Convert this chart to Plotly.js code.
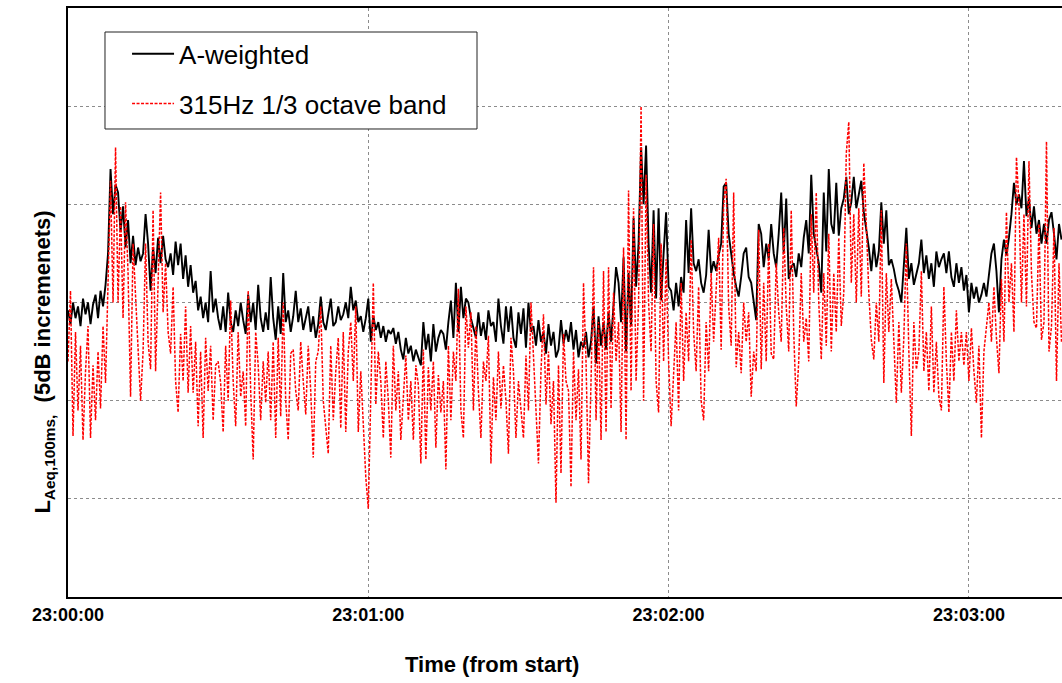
<!DOCTYPE html>
<html>
<head>
<meta charset="utf-8">
<script src="https://cdn.plot.ly/plotly-3.0.1.min.js"></script>
<style>
html,body{margin:0;padding:0;background:#fff;}
#chart{width:1062px;height:683px;}
</style>
</head>
<body>
<div id="chart"></div>
<script>
// Series names (legend)
const seriesNames = ["A-weighted", "315Hz 1/3 octave band"];

// x-axis ticks: seconds from start and their clock labels
const tickSeconds = [0, 60, 120, 180];
const tickLabels = ["23:00:00", "23:01:00", "23:02:00", "23:03:00"];

// axis titles
const xTitle = "Time (from start)";
const yTitle = "L<sub>Aeq,100ms,</sub>  (5dB incremenets)";

// sampling of the values (seconds between readings)
const startSecond = 0;
const sampleStep = 0.5;

// A-weighted level, dB above the bottom of the plot (gridlines every 5 dB)
const aWeighted = [
  14.6,13.9,15.0,14.2,14.8,13.8,15.2,14.4,15.0,13.9,
  14.9,15.4,14.2,15.6,14.8,15.9,17.5,21.8,19.5,21.0,
  20.6,18.6,19.9,17.8,19.2,17.0,18.4,16.9,17.8,17.1,
  17.5,19.5,18.0,15.6,17.8,16.5,18.3,17.0,18.4,17.2,
  16.8,17.5,16.4,18.1,16.9,18.0,16.2,17.4,15.8,16.9,
  15.5,16.1,14.6,15.3,14.2,15.0,14.0,16.6,14.5,15.2,
  14.2,13.6,14.8,13.5,15.5,14.0,13.5,14.6,13.8,15.0,
  14.1,13.4,15.4,14.0,15.0,13.6,15.9,14.2,13.5,14.5,
  13.6,16.3,14.2,13.1,14.8,13.4,16.5,14.0,14.6,13.5,
  14.3,15.6,14.0,14.7,13.6,14.2,14.8,13.5,14.3,13.2,
  13.9,15.3,14.0,13.6,14.5,15.2,13.8,14.0,14.8,14.1,
  14.4,15.0,14.2,15.8,14.6,15.1,14.0,14.3,13.5,14.2,
  15.2,13.0,14.3,13.6,14.0,13.2,13.8,13.0,13.6,13.4,
  13.7,12.9,13.5,12.6,12.1,13.2,12.4,12.8,12.0,12.6,
  12.2,11.8,14.0,12.6,13.4,12.0,13.9,12.5,13.2,13.6,
  13.4,12.6,14.0,15.1,13.2,16.0,13.5,15.8,14.2,15.2,
  15.0,14.2,13.7,13.2,14.5,13.3,14.0,13.1,14.6,13.8,
  14.0,13.0,15.2,13.8,12.9,14.8,13.5,14.8,13.2,12.7,
  14.5,13.4,14.7,12.7,15.0,13.5,13.8,12.8,14.1,13.0,
  13.5,12.4,13.9,12.8,13.5,12.2,12.6,14.1,12.9,13.6,
  13.0,14.0,12.6,13.6,12.2,13.0,12.7,13.5,12.2,13.0,
  14.8,11.9,14.3,12.8,14.0,12.6,14.5,13.0,14.9,16.8,
  16.0,14.0,17.3,12.5,16.5,13.8,19.3,15.8,18.0,22.9,
  20.0,23.0,18.0,15.5,19.7,15.2,19.8,15.1,17.5,19.6,
  15.8,15.6,14.6,16.0,14.8,16.3,15.5,19.2,16.5,19.8,
  17.0,16.6,17.2,16.0,15.5,16.4,18.7,16.5,17.1,16.6,
  17.4,18.0,20.9,21.1,18.5,17.4,16.5,15.8,15.3,16.3,
  17.5,17.8,16.3,16.0,15.0,14.1,19.0,18.5,16.8,18.0,
  17.2,19.0,17.5,16.8,18.5,20.6,17.5,20.3,16.2,16.8,
  17.0,16.3,17.5,16.8,18.3,19.2,17.5,21.5,18.5,17.8,
  17.0,15.5,20.6,17.6,21.8,19.0,18.5,21.1,18.4,19.8,
  20.3,21.4,19.5,20.1,21.4,19.8,20.6,21.2,19.6,18.8,
  17.8,16.6,18.0,16.8,17.6,20.1,18.0,19.7,16.9,17.2,
  16.7,16.0,15.6,15.0,16.7,18.8,16.2,17.0,15.9,16.5,
  17.0,18.2,16.5,17.4,16.2,17.0,15.8,17.6,16.8,17.2,
  17.5,16.5,17.6,16.3,15.8,17.0,16.0,16.8,15.6,16.4,
  14.5,16.0,15.2,15.8,15.0,15.4,16.0,15.3,16.4,17.5,
  18.0,16.6,14.5,17.2,18.2,17.4,18.3,19.5,21.1,20.0,
  20.5,19.8,22.2,19.4,20.3,18.8,19.9,18.5,19.2,18.0,
  19.0,18.0,19.2,19.6,18.5,17.2,19.0,18.2
];

// 315 Hz 1/3 octave band level, same scale
const band315 = [
  12.0,15.6,8.2,13.5,9.5,12.8,8.0,11.5,13.8,8.1,
  11.8,9.0,12.5,9.6,13.8,10.9,16.0,21.2,15.0,22.9,
  15.0,19.9,14.2,20.1,16.5,10.2,18.0,15.5,12.5,10.0,
  12.5,18.0,13.0,11.6,19.7,11.5,16.0,20.6,14.5,17.0,
  13.5,12.4,15.8,11.0,9.4,13.4,11.0,14.8,10.4,13.8,
  10.4,13.0,8.7,12.5,8.1,13.2,10.5,12.8,9.0,11.8,
  12.0,10.9,8.4,12.8,10.0,15.1,11.0,8.7,13.5,10.2,
  11.5,8.7,15.6,10.5,7.0,13.5,11.8,9.0,12.0,9.9,
  12.5,9.0,13.0,8.1,13.2,9.2,15.0,10.0,8.0,12.4,
  12.6,10.5,9.5,13.0,11.0,9.3,12.8,10.5,7.1,12.0,
  12.5,14.8,10.0,8.5,7.3,12.8,9.0,11.5,13.2,8.6,
  13.5,8.4,12.5,14.0,11.0,14.8,8.4,11.5,9.0,6.1,
  4.5,10.5,16.0,9.8,12.5,11.0,8.1,12.0,10.0,7.1,
  12.8,9.5,11.5,8.0,10.5,12.3,9.0,11.0,8.0,11.8,
  10.8,6.8,12.6,7.0,11.7,9.5,12.0,7.6,11.3,9.4,
  11.0,6.5,12.8,9.0,12.5,11.0,15.7,9.5,8.1,14.8,
  12.7,14.5,9.5,13.8,10.5,8.1,12.0,11.0,13.3,6.8,
  11.2,9.0,12.5,9.6,11.8,10.0,7.3,13.2,11.5,8.1,
  11.0,9.5,8.1,12.3,9.5,15.0,12.2,9.2,6.8,11.5,
  14.4,9.8,12.5,8.8,11.0,4.8,11.8,6.3,13.4,11.0,
  10.5,5.6,12.5,9.0,11.6,7.0,16.0,12.0,5.8,11.0,
  16.8,9.0,14.0,8.0,16.6,8.4,16.8,9.6,15.5,12.0,
  14.0,8.4,17.8,8.0,20.7,10.5,19.8,11.0,15.0,25.0,
  10.0,21.5,15.0,12.5,19.0,11.0,9.4,18.0,12.0,17.2,
  12.0,8.7,11.5,14.0,9.5,16.0,11.0,14.5,12.0,18.2,
  13.5,11.5,15.8,10.0,9.0,14.0,11.5,16.5,13.0,15.5,
  18.3,12.6,20.0,21.3,14.8,12.8,20.6,11.7,13.5,11.4,
  15.0,13.0,14.5,10.2,12.5,11.5,18.7,11.6,16.0,12.0,
  18.0,12.4,12.1,17.0,14.5,13.0,18.8,14.8,12.5,19.7,
  13.5,9.7,12.0,16.5,13.0,14.2,12.0,19.5,15.5,20.6,
  15.0,12.1,16.5,12.8,18.5,12.5,16.5,13.5,18.3,13.8,
  15.5,22.6,24.2,16.0,19.5,15.0,19.8,15.3,22.1,19.0,
  15.5,13.1,12.1,15.0,13.0,19.7,10.9,16.5,13.5,16.2,
  12.5,9.9,14.0,10.4,13.2,18.0,12.5,8.2,14.0,11.6,
  12.5,16.6,11.5,13.5,10.5,14.8,10.4,13.0,10.2,9.5,
  15.8,12.0,9.4,13.5,11.0,14.6,12.0,13.5,11.8,13.5,
  11.0,13.7,11.5,9.9,12.8,8.1,12.5,13.8,15.0,13.0,
  15.8,13.2,11.4,16.2,13.0,19.6,15.0,17.0,13.5,22.4,
  20.0,15.0,19.5,14.8,22.2,16.5,14.0,13.7,19.0,13.1,
  14.0,23.2,12.5,13.8,18.8,11.0,17.0,13.0
];

const FONT = "Liberation Sans, Arial, Helvetica, sans-serif";

const traces = [
  {
    type: "scatter", mode: "lines", name: seriesNames[0],
    y: aWeighted, x0: startSecond, dx: sampleStep,
    line: {color: "#000000", width: 1.9},
    legendgroup: "a"
  },
  {
    type: "scatter", mode: "lines", name: seriesNames[1],
    y: band315, x0: startSecond, dx: sampleStep,
    line: {color: "#ff0000", width: 1.5, dash: "3px,1.5px"},
    legendgroup: "b"
  }
];

const layout = {
  width: 1062, height: 683,
  margin: {l: 68, r: 0, t: 8, b: 86, pad: 0},
  paper_bgcolor: "#ffffff", plot_bgcolor: "#ffffff",
  showlegend: true,
  font: {family: FONT, color: "#000"},
  xaxis: {
    range: [0, 198.6],
    tickmode: "array", tickvals: tickSeconds, ticktext: tickLabels,
    ticks: "", showgrid: true, gridcolor: "#8c8c8c", griddash: "dot", gridwidth: 1,
    showline: true, linecolor: "#000", linewidth: 2, mirror: true,
    zeroline: false,
    tickfont: {family: FONT, size: 18, color: "#000", weight: "bold"}
  },
  yaxis: {
    range: [0, 30], dtick: 5, tick0: 0,
    showticklabels: false, ticks: "",
    showgrid: true, gridcolor: "#8c8c8c", griddash: "dot", gridwidth: 1,
    showline: true, linecolor: "#000", linewidth: 2,
    zeroline: false
  },
  legend: {
    x: 0.0594, xanchor: "left", y: 0.962, yanchor: "top",
    bgcolor: "rgba(0,0,0,0)", borderwidth: 0,
    font: {family: FONT, size: 26, color: "#000"},
    itemwidth: 42, traceorder: "grouped", tracegroupgap: 13
  },
  annotations: [
    {text: xTitle, xref: "paper", yref: "paper", x: 0.4266, y: -0.1138,
     xanchor: "center", yanchor: "middle", showarrow: false,
     font: {family: FONT, size: 22, color: "#000", weight: "bold"}},
    {text: yTitle, xref: "paper", yref: "paper", x: -0.0241, y: 0.398,
     xanchor: "center", yanchor: "middle", showarrow: false, textangle: -90,
     font: {family: FONT, size: 22, color: "#000", weight: "bold"}}
  ],
  shapes: [
    {type: "rect", xref: "paper", yref: "paper", x0: 0.03722, x1: 0.41147, y0: 0.79457, y1: 0.95925,
     fillcolor: "#ffffff", line: {color: "#222", width: 1}, layer: "above"}
  ]
};

Plotly.newPlot("chart", traces, layout, {displayModeBar: false, staticPlot: true});
</script>
</body>
</html>
